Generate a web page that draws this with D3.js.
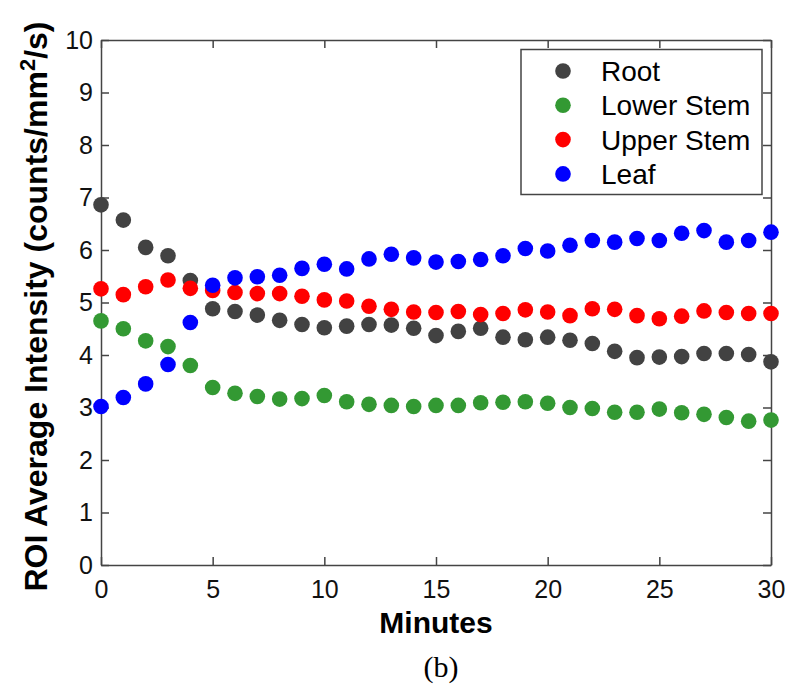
<!DOCTYPE html>
<html>
<head>
<meta charset="utf-8">
<script src="https://cdn.jsdelivr.net/npm/d3@7"></script>
<style>
  body { margin: 0; background: #fff; }
  svg { display: block; font-family: "Liberation Sans", Arial, sans-serif; }
</style>
</head>
<body>
<svg width="791" height="684"></svg>
<script>
// data
const minutes = d3.range(0, 31);
const root = [6.86, 6.57, 6.05, 5.89, 5.42, 4.88, 4.83, 4.76, 4.66, 4.58, 4.52, 4.55,
  4.58, 4.57, 4.51, 4.37, 4.45, 4.51, 4.34, 4.29, 4.34, 4.28, 4.22, 4.07, 3.95, 3.96,
  3.97, 4.03, 4.03, 4.01, 3.87];
const lowerStem = [4.65, 4.50, 4.27, 4.16, 3.80, 3.38, 3.27, 3.21, 3.16, 3.17, 3.23, 3.11,
  3.06, 3.04, 3.02, 3.04, 3.04, 3.09, 3.10, 3.11, 3.08, 3.00, 2.98, 2.91, 2.91, 2.97,
  2.90, 2.87, 2.81, 2.74, 2.76];
const upperStem = [5.26, 5.15, 5.30, 5.43, 5.27, 5.23, 5.19, 5.17, 5.17, 5.12, 5.05, 5.03,
  4.93, 4.87, 4.82, 4.81, 4.83, 4.77, 4.79, 4.86, 4.82, 4.75, 4.88, 4.87, 4.75, 4.69,
  4.74, 4.84, 4.81, 4.79, 4.79];
const leaf = [3.02, 3.19, 3.45, 3.82, 4.62, 5.33, 5.47, 5.49, 5.52, 5.65, 5.73, 5.64,
  5.83, 5.92, 5.85, 5.77, 5.78, 5.82, 5.89, 6.03, 5.98, 6.09, 6.18, 6.15, 6.22, 6.18,
  6.32, 6.37, 6.15, 6.18, 6.34];
const seriesNames = ["Root", "Lower Stem", "Upper Stem", "Leaf"];
const seriesColors = ["#424242", "#339933", "#ff0000", "#0000ff"];
const xTicks = [0, 5, 10, 15, 20, 25, 30];
const yTicks = [0, 1, 2, 3, 4, 5, 6, 7, 8, 9, 10];

const series = [root, lowerStem, upperStem, leaf];

const svg = d3.select("svg");
const plotLeft = 101, plotRight = 771, plotTop = 40, plotBottom = 565;

const x = d3.scaleLinear().domain([0, 30]).range([plotLeft, plotRight]);
const y = d3.scaleLinear().domain([0, 10]).range([plotBottom, plotTop]);

const axisColor = "#444";

function styleAxis(g) {
  g.selectAll("path, line").attr("stroke", axisColor).attr("stroke-width", 1.5);
  g.selectAll("text").attr("fill", "#111").attr("font-size", 25)
    .attr("font-family", "'Liberation Sans', Arial, sans-serif");
}

// bottom axis
svg.append("g")
  .attr("transform", "translate(0," + plotBottom + ")")
  .call(d3.axisBottom(x).tickValues(xTicks).tickSizeInner(-8).tickSizeOuter(0).tickPadding(15))
  .call(styleAxis);

// left axis
svg.append("g")
  .attr("transform", "translate(" + plotLeft + ",0)")
  .call(d3.axisLeft(y).tickValues(yTicks).tickSizeInner(-8).tickSizeOuter(0).tickPadding(8))
  .call(styleAxis);

// top axis (box)
svg.append("g")
  .attr("transform", "translate(0," + plotTop + ")")
  .call(d3.axisTop(x).tickValues(xTicks).tickSizeInner(-8).tickSizeOuter(0).tickFormat(""))
  .call(styleAxis);

// right axis (box)
svg.append("g")
  .attr("transform", "translate(" + plotRight + ",0)")
  .call(d3.axisRight(y).tickValues(yTicks).tickSizeInner(-8).tickSizeOuter(0).tickFormat(""))
  .call(styleAxis);

// points
series.forEach(function (vals, i) {
  svg.append("g")
    .selectAll("circle")
    .data(vals)
    .enter().append("circle")
    .attr("cx", function (d, j) { return x(minutes[j]); })
    .attr("cy", function (d) { return y(d); })
    .attr("r", 7.8)
    .attr("fill", seriesColors[i]);
});

// axis titles
svg.append("text")
  .attr("x", (plotLeft + plotRight) / 2)
  .attr("y", 633)
  .attr("text-anchor", "middle")
  .attr("font-size", 30)
  .attr("font-weight", "bold")
  .attr("fill", "#000")
  .text("Minutes");

const yTitle = svg.append("text")
  .attr("transform", "translate(47," + ((plotTop + plotBottom) / 2 + 4) + ") rotate(-90)")
  .attr("text-anchor", "middle")
  .attr("font-size", 32)
  .attr("font-weight", "bold")
  .attr("fill", "#000");
yTitle.append("tspan").text("ROI Average Intensity (counts/mm");
yTitle.append("tspan").attr("baseline-shift", "super").attr("font-size", 22).text("2");
yTitle.append("tspan").text("/s)");

svg.append("text")
  .attr("x", 441)
  .attr("y", 677)
  .attr("text-anchor", "middle")
  .attr("font-size", 30)
  .attr("font-family", "'Liberation Serif', 'DejaVu Serif', serif")
  .attr("fill", "#000")
  .text("(b)");

// legend
const legend = svg.append("g");
legend.append("rect")
  .attr("x", 521).attr("y", 49.5)
  .attr("width", 241).attr("height", 145)
  .attr("fill", "#fff")
  .attr("stroke", axisColor)
  .attr("stroke-width", 1.5);

const rows = legend.selectAll("g.row")
  .data(seriesNames)
  .enter().append("g")
  .attr("class", "row")
  .attr("transform", function (d, i) { return "translate(0," + (71 + i * 34.3) + ")"; });
rows.append("circle")
  .attr("cx", 563).attr("cy", 0).attr("r", 7.8)
  .attr("fill", function (d, i) { return seriesColors[i]; });
rows.append("text")
  .attr("x", 601).attr("y", 10)
  .attr("font-size", 28)
  .attr("fill", "#000")
  .text(function (d) { return d; });
</script>
</body>
</html>
